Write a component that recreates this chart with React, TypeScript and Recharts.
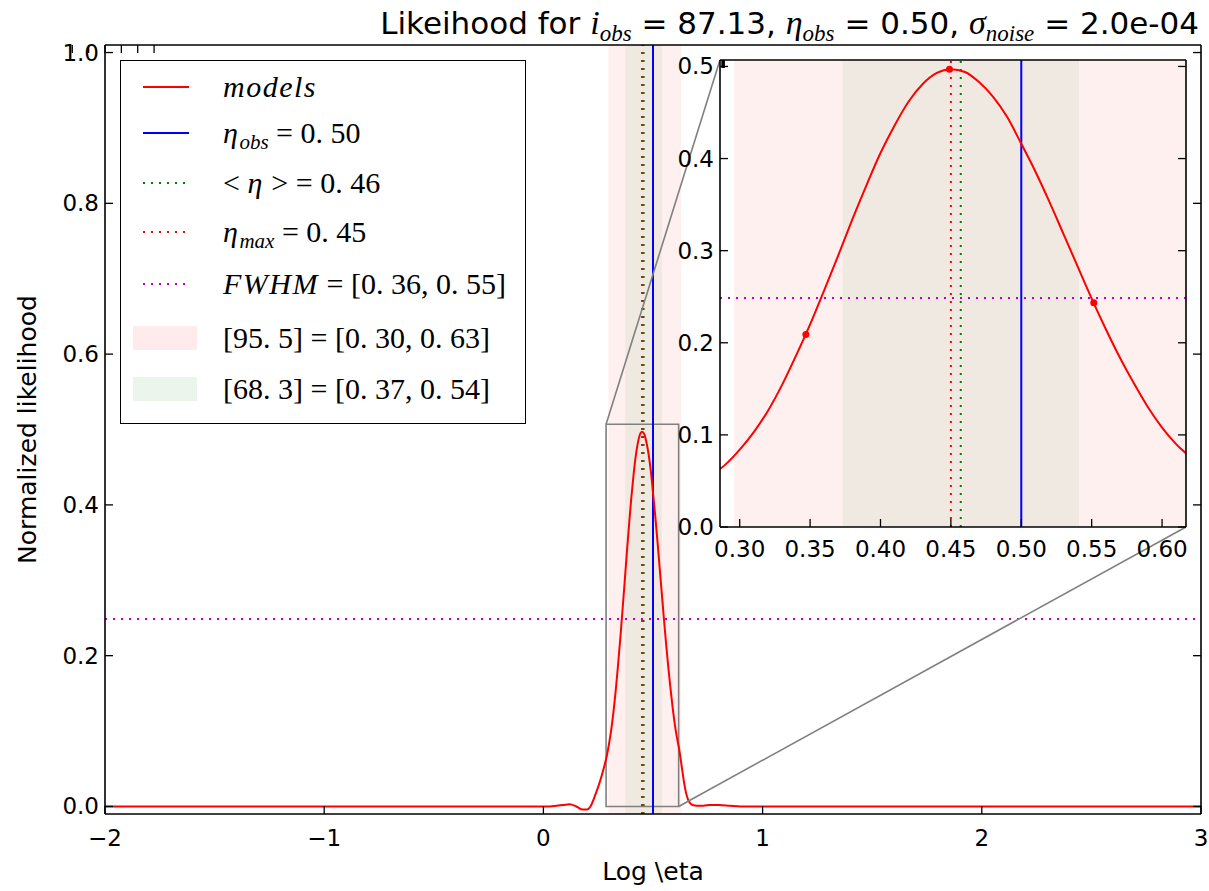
import React from 'react';
import {
  ComposedChart, Line, Scatter, XAxis, YAxis, ReferenceLine, ReferenceArea,
} from 'recharts';

// normalized likelihood vs log eta
const logEta = [
  -2, -1, -0.3, 0, 0.03, 0.06, 0.09, 0.12, 0.15, 0.18, 0.2, 0.21, 0.22, 0.23, 0.24,
  0.25, 0.26, 0.27, 0.28, 0.29, 0.3, 0.31, 0.32, 0.33, 0.34, 0.35, 0.36, 0.37, 0.38,
  0.39, 0.4, 0.41, 0.42, 0.43, 0.44, 0.45, 0.46, 0.47, 0.48, 0.49, 0.5, 0.51, 0.52,
  0.53, 0.54, 0.55, 0.56, 0.57, 0.58, 0.59, 0.6, 0.61, 0.62, 0.63, 0.64, 0.65, 0.66,
  0.67, 0.68, 0.7, 0.73, 0.76, 0.8, 0.85, 0.9, 1, 2, 3,
];
const likelihood = [
  0, 0, 0, 0, 0.0, 0.001, 0.002, 0.003, 0.0, -0.004, -0.004, -0.002, 0.003, 0.01, 0.018,
  0.026, 0.035, 0.045, 0.056, 0.068, 0.084, 0.103, 0.126, 0.154, 0.186, 0.22, 0.257, 0.295, 0.334,
  0.371, 0.406, 0.436, 0.462, 0.481, 0.493, 0.497, 0.494, 0.483, 0.467, 0.445, 0.416, 0.386, 0.353,
  0.318, 0.283, 0.248, 0.215, 0.184, 0.156, 0.13, 0.108, 0.09, 0.075, 0.055, 0.035, 0.019, 0.009,
  0.004, 0.002, 0.001, 0.001, 0.002, 0.002, 0.001, 0, 0, 0, 0,
];

// marked model points in the zoom
const markEta = [0.347, 0.449, 0.5515];
const markLike = [0.209, 0.497, 0.2435];

const etaObs = 0.5;
const etaMean = 0.457;
const etaMax = 0.45;
const fwhm = [0.357, 0.55];
const halfMax = 0.2485;
const ci95 = [0.296, 0.628];
const ci68 = [0.373, 0.541];
const levels = [95.5, 68.3];

const mainXTicks = [-2, -1, 0, 1, 2, 3];
const mainYTicks = [0, 0.2, 0.4, 0.6, 0.8, 1.0];
const insetXTicks = [0.3, 0.35, 0.4, 0.45, 0.5, 0.55, 0.6];
const insetYTicks = [0, 0.1, 0.2, 0.3, 0.4, 0.5];

const curve = logEta.map((eta, i) => ({ eta, like: likelihood[i] }));
const marks = markEta.map((eta, i) => ({ eta, like: markLike[i] }));

const W = 1209;
const H = 891;
const MAIN = { left: 105, top: 45, right: 1201, bottom: 814 };
const X_DOM = [-2, 3];
const Y_DOM = [-0.01, 1.01];
const INSET = { left: 720, top: 60, right: 1186, bottom: 527 };
const IX_DOM = [0.286, 0.617];
const IY_DOM = [0, 0.507];

// axis band sizes (bottom, top, left, right)
const AX = { b: 30, t: 6, l: 40, r: 5 };

const RED = '#ff0000';
const BLUE = '#0000ff';
const GREEN = '#008000';
const MAGENTA = '#bf00bf';
const GRAY = '#808080';
const SANS = '"DejaVu Sans", sans-serif';
const SERIF = '"Liberation Serif", "DejaVu Serif", serif';
const DOT = '2 6';
const TICK_FONT = 23;

// pixel on the page -> main data coordinates (for the zoom connectors)
const toMain = (px: number, py: number) => ({
  x: X_DOM[0] + ((px - MAIN.left) / (MAIN.right - MAIN.left)) * (X_DOM[1] - X_DOM[0]),
  y: Y_DOM[1] - ((py - MAIN.top) / (MAIN.bottom - MAIN.top)) * (Y_DOM[1] - Y_DOM[0]),
});

const minus = (v: number) => (v < 0 ? '\u2212' + Math.abs(v) : String(v));
const mt = (v: number, d = 2) => v.toFixed(d).replace('.', '. ');

type Side = 'bottom' | 'top' | 'left' | 'right';
const makeTick = (side: Side, fmt?: (v: number) => string, off = 31) => (props: any) => {
  const { x, y, payload } = props;
  const len = 8;
  const ln = { stroke: '#000', strokeWidth: 1.3 };
  const txt = { fontFamily: SANS, fontSize: TICK_FONT, fill: '#000' };
  if (side === 'bottom')
    return (
      <g>
        <line x1={x} x2={x} y1={y} y2={y - len} {...ln} />
        {fmt && <text x={x} y={y + off} textAnchor="middle" {...txt}>{fmt(payload.value)}</text>}
      </g>
    );
  if (side === 'top') return <line x1={x} x2={x} y1={y} y2={y + len} {...ln} />;
  if (side === 'left')
    return (
      <g>
        <line x1={x} x2={x + len} y1={y} y2={y} {...ln} />
        {fmt && <text x={x - off} y={y + 8} textAnchor="end" {...txt}>{fmt(payload.value)}</text>}
      </g>
    );
  return <line x1={x} x2={x - len} y1={y} y2={y} {...ln} />;
};

const axisLine = { stroke: '#000', strokeWidth: 1.6 };
const axisCommon = { interval: 0 as const, tickSize: 0, tickMargin: 0, axisLine, tickLine: false, allowDataOverflow: true };

const It = ({ children }: any) => <span style={{ fontStyle: 'italic', letterSpacing: 1.5 }}>{children}</span>;
const Sub = ({ children }: any) => (
  <span style={{ fontStyle: 'italic', fontSize: '0.7em', position: 'relative', top: '0.3em' }}>{children}</span>
);

const legendRows: { y: number; kind: string; color: string; dash?: string; label: React.ReactNode }[] = [
  { y: 86, kind: 'line', color: RED, label: <It>models</It> },
  { y: 132, kind: 'line', color: BLUE, label: <><It>η</It><Sub>obs</Sub>{' = ' + mt(etaObs)}</> },
  { y: 182, kind: 'line', color: GREEN, dash: DOT, label: <>{'< '}<It>η</It>{' > = ' + mt(etaMean)}</> },
  { y: 231, kind: 'line', color: RED, dash: DOT, label: <><It>η</It><Sub>max</Sub>{' = ' + mt(etaMax)}</> },
  { y: 283, kind: 'line', color: MAGENTA, dash: DOT, label: <><It>FWHM</It>{` = [${mt(fwhm[0])}, ${mt(fwhm[1])}]`}</> },
  { y: 337, kind: 'patch', color: 'rgba(255,0,0,0.08)', label: `[${mt(levels[0], 1)}] = [${mt(ci95[0])}, ${mt(ci95[1])}]` },
  { y: 388, kind: 'patch', color: 'rgba(0,128,0,0.08)', label: `[${mt(levels[1], 1)}] = [${mt(ci68[0])}, ${mt(ci68[1])}]` },
];

const Legend = () => (
  <div style={{
    position: 'absolute', left: 120, top: 60, width: 406, height: 364, boxSizing: 'border-box',
    border: '1.6px solid #000', background: '#fff',
  }}>
    {legendRows.map((r, i) => (
      <React.Fragment key={i}>
        <svg style={{ position: 'absolute', left: 12, top: r.y - 60 - 13 }} width={66} height={26}>
          {r.kind === 'line' ? (
            <line x1={10} x2={56} y1={13} y2={13} stroke={r.color} strokeWidth={2} strokeDasharray={r.dash} />
          ) : (
            <rect x={0} y={1} width={64} height={24} fill={r.color} />
          )}
        </svg>
        <div style={{
          position: 'absolute', left: 102, top: r.y - 60 - 17, lineHeight: '34px', height: 34,
          fontFamily: SERIF, fontSize: 30, whiteSpace: 'pre', color: '#000',
        }}>{r.label}</div>
      </React.Fragment>
    ))}
  </div>
);

const MainChart = () => {
  const c1 = [{ x: IX_DOM[0], y: IY_DOM[1] }, toMain(INSET.left, INSET.top)];
  const c2 = [{ x: IX_DOM[1], y: IY_DOM[0] }, toMain(INSET.right, INSET.bottom)];
  return (
    <ComposedChart width={W} height={H} data={curve}
      margin={{ top: MAIN.top - AX.t, right: W - MAIN.right - AX.r, bottom: H - MAIN.bottom - AX.b, left: MAIN.left - AX.l }}>
      <XAxis type="number" dataKey="eta" domain={X_DOM} ticks={mainXTicks} height={AX.b} {...axisCommon}
        tick={makeTick('bottom', minus, 32)} />
      <XAxis xAxisId="top" orientation="top" type="number" domain={X_DOM} ticks={mainXTicks} height={AX.t} {...axisCommon}
        tick={makeTick('top')} />
      <YAxis type="number" domain={Y_DOM} ticks={mainYTicks} width={AX.l} {...axisCommon}
        tick={makeTick('left', (v) => v.toFixed(1), 6)} />
      <YAxis yAxisId="right" orientation="right" type="number" domain={Y_DOM} ticks={mainYTicks} width={AX.r} {...axisCommon}
        tick={makeTick('right')} />
      <ReferenceArea x1={ci95[0]} x2={ci95[1]} fill={RED} fillOpacity={0.06} stroke="none" ifOverflow="hidden" />
      <ReferenceArea x1={ci68[0]} x2={ci68[1]} fill={GREEN} fillOpacity={0.06} stroke="none" ifOverflow="hidden" />
      <ReferenceLine y={halfMax} stroke={MAGENTA} strokeWidth={2} strokeDasharray={DOT} />
      <ReferenceLine x={etaObs} stroke={BLUE} strokeWidth={2} />
      <ReferenceLine x={etaMax} stroke={RED} strokeWidth={2} strokeDasharray={DOT} />
      <ReferenceLine x={etaMean} stroke={GREEN} strokeWidth={2} strokeDasharray={DOT} />
      <Line type="monotone" dataKey="like" stroke={RED} strokeWidth={2} dot={false} isAnimationActive={false} />
      <ReferenceArea x1={IX_DOM[0]} x2={IX_DOM[1]} y1={IY_DOM[0]} y2={IY_DOM[1]} fill="none"
        stroke={GRAY} strokeWidth={1.6} ifOverflow="visible" />
      <ReferenceLine segment={c1} stroke={GRAY} strokeWidth={1.6} ifOverflow="visible" />
      <ReferenceLine segment={c2} stroke={GRAY} strokeWidth={1.6} ifOverflow="visible" />
    </ComposedChart>
  );
};

const IM = { top: 20, right: 20, bottom: 60, left: 70 };

const InsetChart = () => (
  <ComposedChart width={INSET.right - INSET.left + IM.left + IM.right}
    height={INSET.bottom - INSET.top + IM.top + IM.bottom} data={curve}
    margin={{ top: IM.top - AX.t, right: IM.right - AX.r, bottom: IM.bottom - AX.b, left: IM.left - AX.l }}>
    <XAxis type="number" dataKey="eta" domain={IX_DOM} ticks={insetXTicks} height={AX.b} {...axisCommon}
      tick={makeTick('bottom', (v) => v.toFixed(2), 30)} />
    <XAxis xAxisId="top" orientation="top" type="number" domain={IX_DOM} ticks={insetXTicks} height={AX.t} {...axisCommon}
      tick={makeTick('top')} />
    <YAxis type="number" dataKey="like" domain={IY_DOM} ticks={insetYTicks} width={AX.l} {...axisCommon}
      tick={makeTick('left', (v) => v.toFixed(1), 6)} />
    <YAxis yAxisId="right" orientation="right" type="number" domain={IY_DOM} ticks={insetYTicks} width={AX.r} {...axisCommon}
      tick={makeTick('right')} />
    <ReferenceArea x1={ci95[0]} x2={ci95[1]} fill={RED} fillOpacity={0.06} stroke="none" ifOverflow="hidden" />
    <ReferenceArea x1={ci68[0]} x2={ci68[1]} fill={GREEN} fillOpacity={0.06} stroke="none" ifOverflow="hidden" />
    <ReferenceLine y={halfMax} stroke={MAGENTA} strokeWidth={2} strokeDasharray={DOT} />
    <ReferenceLine x={etaObs} stroke={BLUE} strokeWidth={2} />
    <ReferenceLine x={etaMax} stroke={RED} strokeWidth={2} strokeDasharray={DOT} />
    <ReferenceLine x={etaMean} stroke={GREEN} strokeWidth={2} strokeDasharray={DOT} />
    <Line type="monotone" dataKey="like" stroke={RED} strokeWidth={2} dot={false} isAnimationActive={false} />
    <Scatter data={marks} dataKey="like" fill={RED} isAnimationActive={false}
      shape={(p: any) => <circle cx={p.cx} cy={p.cy} r={3.5} fill={RED} />} />
  </ComposedChart>
);

const mathBig = { fontFamily: SERIF, fontStyle: 'italic' as const, fontSize: 34 };
const mathSub = { fontFamily: SERIF, fontStyle: 'italic' as const, fontSize: 23, position: 'relative' as const, top: 7 };

export default function App() {
  return (
    <div style={{ position: 'absolute', left: 0, top: 0, width: W, height: H, background: '#fff', overflow: 'hidden' }}>
      <div style={{ position: 'absolute', left: 0, top: 0 }}>
        <MainChart />
      </div>
      <Legend />
      <div style={{
        position: 'absolute', left: INSET.left, top: INSET.top, width: INSET.right - INSET.left,
        height: INSET.bottom - INSET.top, background: '#fff',
      }} />
      <div style={{ position: 'absolute', left: INSET.left - IM.left, top: INSET.top - IM.top }}>
        <InsetChart />
      </div>
      <div style={{
        position: 'absolute', left: 0, top: 5, width: MAIN.right - 2, textAlign: 'right',
        fontFamily: SANS, fontSize: 31, lineHeight: '36px', whiteSpace: 'pre', color: '#000',
      }}>
        {'Likeihood for '}
        <span style={mathBig}>i</span><span style={mathSub}>obs</span>
        {' = 87.13, '}
        <span style={mathBig}>η</span><span style={mathSub}>obs</span>
        {' = 0.50, '}
        <span style={mathBig}>σ</span><span style={mathSub}>noise</span>
        {' = 2.0e-04'}
      </div>
      <svg style={{ position: 'absolute', left: 0, top: 0, pointerEvents: 'none' }} width={W} height={H}>
        <text x={(MAIN.left + MAIN.right) / 2} y={880} textAnchor="middle" fontFamily={SANS} fontSize={25}>Log \eta</text>
        <text x={36} y={(MAIN.top + MAIN.bottom) / 2} transform={`rotate(-90 36 ${(MAIN.top + MAIN.bottom) / 2})`}
          textAnchor="middle" fontFamily={SANS} fontSize={25}>Normalized likelihood</text>
      </svg>
    </div>
  );
}
